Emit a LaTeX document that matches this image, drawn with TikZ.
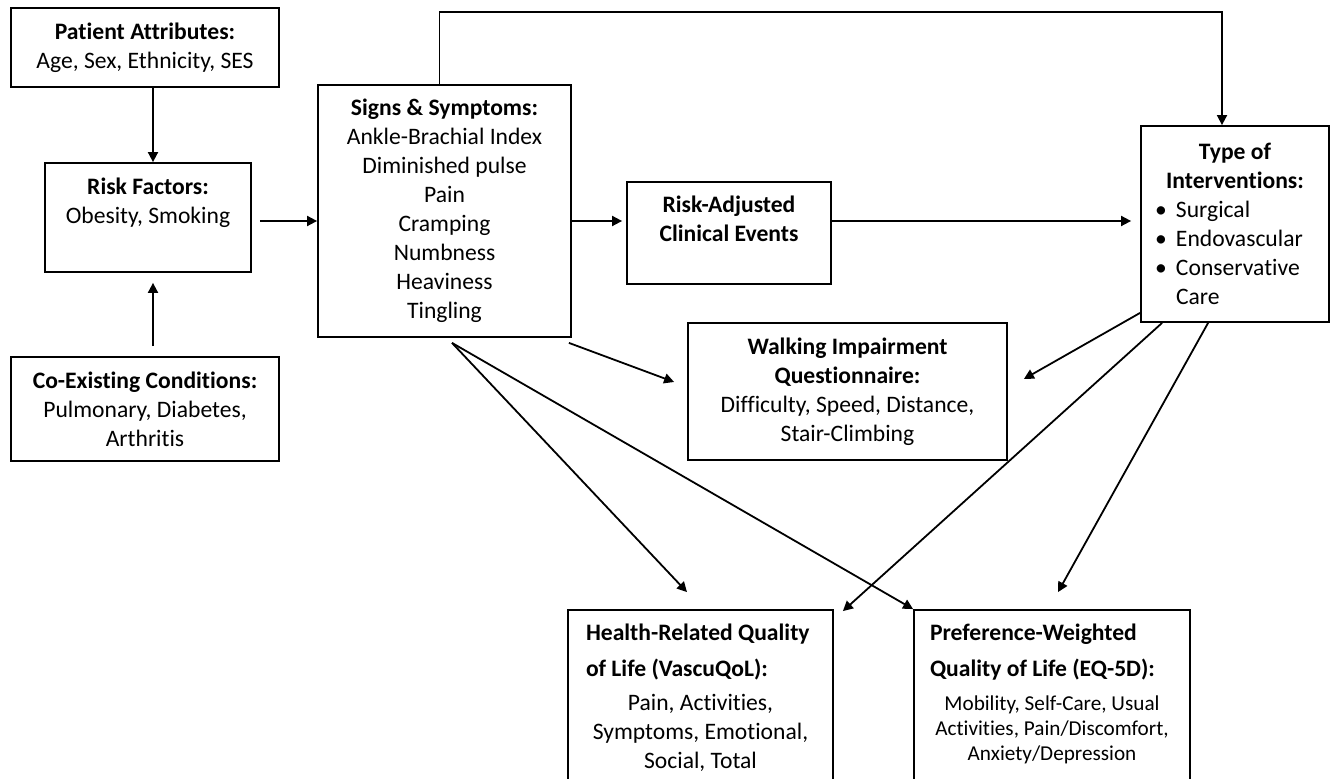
\documentclass[tikz,border=0pt]{standalone}
\usepackage{fontspec}
\setmainfont{Carlito}[Ligatures=NoCommon]
\usetikzlibrary{arrows.meta}

\newcommand{\boxtext}[4][c]{\parbox[c][#3][#1]{#2}{\centering #4}}

\begin{document}
\begin{tikzpicture}[x=0.5pt, y=-0.5pt]
\tikzstyle{box}=[draw, line width=0.9pt, inner sep=0pt,
                 font=\fontsize{11.8}{14.5}\selectfont]
\tikzstyle{arr}=[line width=0.9pt, -{Triangle[length=5pt,width=5pt]}]
\useasboundingbox (0,0) rectangle (1339,779);

\node[box] (pa) at (145,47.5) {\boxtext{134pt}{39.5pt}{\textbf{Patient Attributes:}\\Age, Sex, Ethnicity, SES}};
\node[box] (rf) at (148,217.5) {\boxtext[t]{103pt}{54.5pt}{\rule{0pt}{16pt}\textbf{Risk Factors:}\\Obesity, Smoking}};
\node[box] (ce) at (145,409) {\boxtext{134pt}{52pt}{\textbf{Co-Existing Conditions:}\\Pulmonary, Diabetes,\\Arthritis}};
\node[box] (ss) at (444.5,211) {\boxtext{126.5pt}{126pt}{\textbf{Signs \& Symptoms:}\\Ankle-Brachial Index\\Diminished pulse\\Pain\\Cramping\\Numbness\\Heaviness\\Tingling}};
\node[box] (ra) at (729,233) {\boxtext[t]{102pt}{51pt}{\rule{0pt}{15.5pt}\textbf{Risk-Adjusted}\\\textbf{Clinical Events}}};
\node[box] (ti) at (1235,224) {\boxtext{94pt}{98pt}{\textbf{Type of}\\\textbf{Interventions:}\par\raggedright
  \hspace*{7pt}\makebox[10.5pt][l]{\textbullet}Surgical\\
  \hspace*{7pt}\makebox[10.5pt][l]{\textbullet}Endovascular\\
  \hspace*{7pt}\makebox[10.5pt][l]{\textbullet}Conservative\\
  \hspace*{17.5pt}Care}};
\node[box] (wi) at (847.5,391.5) {\boxtext{159.5pt}{68.5pt}{\textbf{Walking Impairment}\\\textbf{Questionnaire:}\\Difficulty, Speed, Distance,\\Stair-Climbing}};
\node[box] (hr) at (700.5,705) {\boxtext[t]{132.5pt}{95pt}{\raggedright\rule{0pt}{15.5pt}\hspace*{9pt}\textbf{Health-Related Quality}\\[3.5pt]
  \hspace*{9pt}\textbf{of Life (VascuQoL):}\par\centering\vspace{2.5pt}
  Pain, Activities,\\Symptoms, Emotional,\\Social, Total}};
\node[box] (pw) at (1052,705) {\boxtext[t]{138pt}{95pt}{\raggedright\rule{0pt}{15.5pt}\hspace*{8pt}\textbf{Preference-Weighted}\\[3.5pt]
  \hspace*{8pt}\textbf{Quality of Life (EQ-5D):}\par\centering\fontsize{10.6}{12.5}\selectfont\vspace{4.5pt}
  Mobility, Self-Care, Usual\\Activities, Pain/Discomfort,\\Anxiety/Depression}};

\coordinate (midline) at (0,221);
\coordinate (topline) at (0,12);

% left column feeds the risk factors
\draw[arr] ([xshift=2.5pt]rf.north |- pa.south) -- ([xshift=2.5pt]rf.north);
\draw[arr, shorten <=5pt, shorten >=5pt] ([xshift=2.5pt]rf.south |- ce.north) -- ([xshift=2.5pt]rf.south);
\draw[arr, shorten <=4pt] (rf.east |- midline) -- (ss.west |- midline);

% middle row
\draw[arr, shorten >=2pt] (ss.east |- midline) -- (ra.west |- midline);
\draw[arr, shorten >=4.5pt] (ra.east |- midline) -- (ti.west |- midline);

% long way round over the top
\draw[arr] ([xshift=-2.5pt]ss.north) -- ([xshift=-2.5pt]ss.north |- topline) -| ([xshift=-6.5pt]ti.north);

% outcomes
\draw[arr] ([xshift=-1.5pt,yshift=-2.5pt]ss.south east) -- ([xshift=-6.5pt,yshift=4.75pt]wi.west);
\draw[arr] ([xshift=3.75pt,yshift=-2.5pt]ss.south) -- ([xshift=-6.75pt,yshift=8.5pt]hr.north);
\draw[arr] ([xshift=3.75pt,yshift=-2.5pt]ss.south) -- (pw.north west);
\draw[arr] ([yshift=5pt]ti.south west) -- ([xshift=8pt,yshift=6.25pt]wi.east);
\draw[arr] ([xshift=11pt]ti.south west) -- ([xshift=4.5pt,yshift=-1pt]hr.north east);
\draw[arr] ([xshift=34pt]ti.south west) -- ([xshift=3pt,yshift=8.5pt]pw.north);
\end{tikzpicture}
\end{document}
